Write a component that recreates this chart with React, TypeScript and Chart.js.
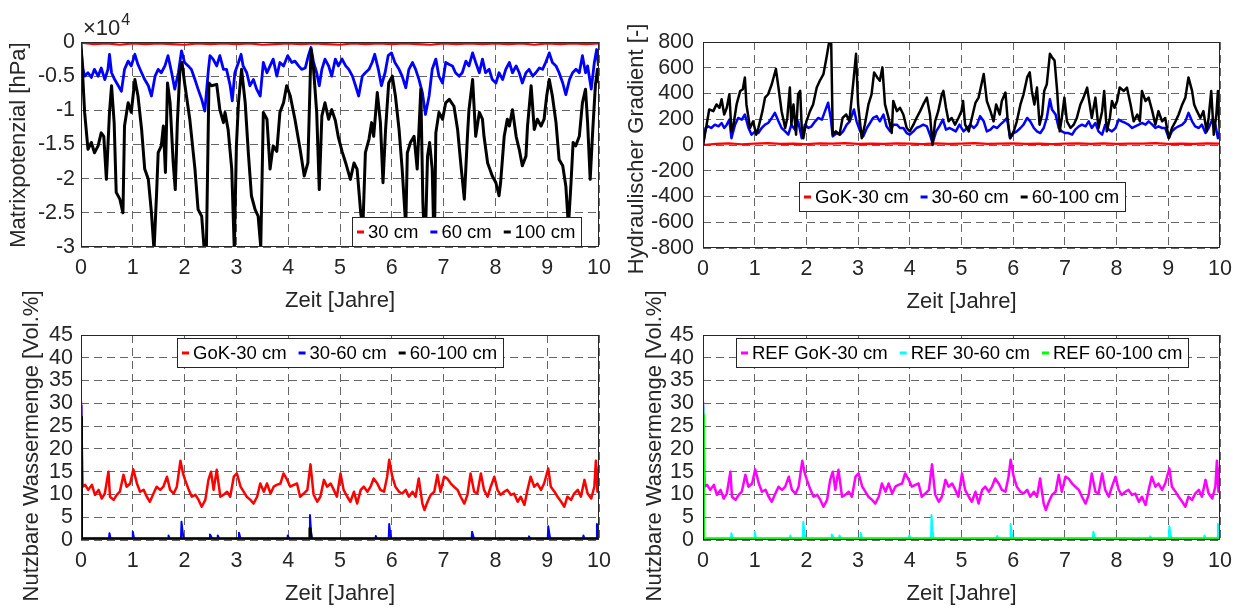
import React, { useEffect, useRef } from "react";
import { Chart, registerables } from "chart.js";
Chart.register(...registerables);

const FONT = "'Liberation Sans', Arial, sans-serif";
const TXT = "#262626";
const GRID = "rgba(0,0,0,0.6)";

// ---------- tick arrays ----------
const xTicks = [0, 1, 2, 3, 4, 5, 6, 7, 8, 9, 10];
const matrixTicks = [0, -0.5, -1, -1.5, -2, -2.5, -3]; // x 10^4 hPa
const gradientTicks = [800, 600, 400, 200, 0, -200, -400, -600, -800];
const waterTicks = [0, 5, 10, 15, 20, 25, 30, 35, 40, 45];

// ---------- Matrixpotenzial (x10^4 hPa) : [Jahre, Wert] ----------
const matrix30: [number, number][] = [
  [0, -0.01], [0.25, -0.03], [0.5, -0.02], [0.75, -0.04], [1, -0.02], [1.25, -0.03], [1.5, -0.02], [1.75, -0.03],
  [2, -0.04], [2.25, -0.02], [2.5, -0.03], [2.75, -0.02], [3, -0.03], [3.25, -0.02], [3.5, -0.04], [3.75, -0.03],
  [4, -0.02], [4.25, -0.03], [4.5, -0.02], [4.75, -0.03], [5, -0.04], [5.25, -0.02], [5.5, -0.03], [5.75, -0.02],
  [6, -0.03], [6.25, -0.02], [6.5, -0.03], [6.75, -0.04], [7, -0.02], [7.25, -0.03], [7.5, -0.02], [7.75, -0.03],
  [8, -0.02], [8.25, -0.03], [8.5, -0.02], [8.75, -0.04], [9, -0.02], [9.25, -0.03], [9.5, -0.02], [9.75, -0.03], [10, -0.02],
];
const matrix60: [number, number][] = [
  [0, -0.1], [0.04, -0.4], [0.07, -0.5], [0.135, -0.45], [0.2, -0.52], [0.26, -0.4], [0.33, -0.5], [0.39, -0.38],
  [0.46, -0.55], [0.52, -0.4], [0.55, -0.18], [0.59, -0.45], [0.65, -0.55], [0.72, -0.64], [0.78, -0.72], [0.84, -0.4],
  [0.91, -0.28], [0.97, -0.35], [1.04, -0.18], [1.1, -0.33], [1.17, -0.45], [1.23, -0.55], [1.3, -0.64], [1.36, -0.79],
  [1.43, -0.5], [1.49, -0.4], [1.55, -0.45], [1.62, -0.35], [1.68, -0.2], [1.75, -0.45], [1.81, -0.69], [1.88, -0.45],
  [1.94, -0.13], [2.0, -0.3], [2.07, -0.35], [2.13, -0.4], [2.2, -0.55], [2.26, -0.69], [2.33, -0.84], [2.39, -1.01],
  [2.46, -0.4], [2.49, -0.2], [2.55, -0.25], [2.62, -0.35], [2.68, -0.2], [2.75, -0.4], [2.81, -0.4], [2.88, -0.64],
  [2.92, -0.86], [2.97, -0.45], [3.04, -0.3], [3.09, -0.18], [3.13, -0.35], [3.2, -0.45], [3.26, -0.64], [3.33, -0.55],
  [3.39, -0.69], [3.46, -0.79], [3.52, -0.3], [3.59, -0.45], [3.65, -0.35], [3.71, -0.25], [3.78, -0.5], [3.84, -0.3],
  [3.91, -0.35], [3.99, -0.2], [4.07, -0.3], [4.13, -0.28], [4.2, -0.35], [4.26, -0.4], [4.33, -0.38], [4.39, -0.2],
  [4.44, -0.08], [4.49, -0.3], [4.55, -0.45], [4.6, -0.64], [4.65, -0.4], [4.71, -0.25], [4.78, -0.35], [4.84, -0.5],
  [4.91, -0.25], [4.97, -0.35], [5.04, -0.25], [5.11, -0.35], [5.17, -0.4], [5.24, -0.5], [5.3, -0.64], [5.36, -0.79],
  [5.43, -0.5], [5.49, -0.45], [5.56, -0.4], [5.62, -0.3], [5.67, -0.18], [5.74, -0.4], [5.8, -0.64], [5.87, -0.45],
  [5.93, -0.2], [5.995, -0.16], [6.06, -0.3], [6.14, -0.4], [6.2, -0.5], [6.27, -0.67], [6.33, -0.4], [6.4, -0.3],
  [6.46, -0.4], [6.525, -0.55], [6.59, -0.74], [6.65, -1.06], [6.72, -0.79], [6.78, -0.4], [6.85, -0.25], [6.91, -0.5],
  [6.98, -0.6], [7.04, -0.3], [7.11, -0.33], [7.17, -0.35], [7.23, -0.45], [7.3, -0.5], [7.36, -0.45], [7.43, -0.28],
  [7.49, -0.35], [7.56, -0.16], [7.62, -0.3], [7.69, -0.45], [7.75, -0.25], [7.81, -0.45], [7.88, -0.4], [7.94, -0.55],
  [8.01, -0.6], [8.07, -0.45], [8.14, -0.55], [8.2, -0.4], [8.27, -0.3], [8.33, -0.45], [8.4, -0.35], [8.46, -0.45],
  [8.52, -0.6], [8.59, -0.45], [8.65, -0.4], [8.72, -0.5], [8.78, -0.45], [8.85, -0.38], [8.91, -0.4], [8.97, -0.3],
  [9.04, -0.16], [9.1, -0.3], [9.17, -0.35], [9.23, -0.45], [9.3, -0.6], [9.36, -0.77], [9.43, -0.55], [9.49, -0.45],
  [9.555, -0.4], [9.62, -0.45], [9.68, -0.2], [9.74, -0.45], [9.78, -0.35], [9.85, -0.69], [9.91, -0.3], [9.955, -0.11],
  [9.99, -0.35],
];
const matrix100: [number, number][] = [
  [0, -0.02], [0.07, -1.03], [0.135, -1.57], [0.2, -1.47], [0.26, -1.62], [0.33, -1.52], [0.39, -1.33], [0.44, -1.38],
  [0.49, -2.01], [0.55, -1.03], [0.59, -0.64], [0.64, -1.18], [0.68, -2.2], [0.75, -2.3], [0.81, -2.5], [0.84, -1.23],
  [0.91, -0.89], [0.97, -1.03], [1.04, -0.55], [1.1, -0.79], [1.17, -1.28], [1.23, -1.86], [1.3, -2.01], [1.36, -2.5],
  [1.41, -3.05], [1.46, -2.2], [1.49, -1.62], [1.55, -1.52], [1.59, -1.23], [1.63, -1.91], [1.67, -0.6], [1.72, -0.89],
  [1.78, -1.77], [1.82, -2.16], [1.86, -1.18], [1.91, -0.4], [1.95, -0.3], [2.0, -0.6], [2.1, -1.13], [2.2, -1.86],
  [2.26, -2.45], [2.33, -2.55], [2.38, -3.05], [2.42, -3.05], [2.47, -0.6], [2.52, -0.64], [2.62, -0.62], [2.68, -0.99],
  [2.75, -1.18], [2.78, -1.03], [2.84, -1.28], [2.91, -1.86], [2.96, -3.05], [3.0, -1.52], [3.04, -0.89], [3.1, -0.4],
  [3.17, -0.89], [3.23, -1.62], [3.29, -2.25], [3.36, -2.45], [3.42, -2.55], [3.47, -3.0], [3.52, -1.03], [3.59, -1.13],
  [3.65, -1.86], [3.71, -1.52], [3.78, -1.6], [3.84, -1.03], [3.91, -0.89], [3.97, -0.64], [4.04, -0.79], [4.13, -1.13],
  [4.23, -1.57], [4.31, -1.96], [4.38, -1.77], [4.44, -0.11], [4.49, -0.4], [4.55, -1.03], [4.6, -2.16], [4.65, -1.08],
  [4.71, -0.89], [4.78, -1.13], [4.84, -0.99], [4.91, -1.15], [4.97, -1.4], [5.04, -1.6], [5.11, -1.77], [5.2, -2.01],
  [5.27, -1.77], [5.33, -1.86], [5.4, -2.5], [5.44, -2.75], [5.49, -1.62], [5.56, -1.42], [5.61, -1.18], [5.65, -1.38],
  [5.72, -0.74], [5.78, -1.18], [5.83, -2.06], [5.88, -1.28], [5.94, -0.6], [6.01, -0.5], [6.07, -0.79], [6.14, -1.28],
  [6.2, -1.86], [6.27, -2.7], [6.3, -1.62], [6.36, -1.47], [6.43, -1.38], [6.49, -1.86], [6.56, -0.69], [6.6, -2.35],
  [6.64, -3.1], [6.69, -1.67], [6.73, -1.47], [6.78, -1.86], [6.82, -3.1], [6.85, -1.33], [6.91, -1.03], [6.98, -1.13],
  [7.04, -0.89], [7.11, -0.84], [7.2, -0.94], [7.27, -1.28], [7.33, -1.77], [7.4, -2.3], [7.46, -1.38], [7.49, -0.99],
  [7.56, -0.55], [7.62, -1.38], [7.69, -1.03], [7.75, -1.13], [7.78, -1.38], [7.85, -1.77], [7.94, -1.96], [8.01, -2.06],
  [8.07, -2.25], [8.1, -2.06], [8.17, -1.38], [8.23, -1.13], [8.27, -1.23], [8.33, -0.99], [8.4, -1.38], [8.46, -1.57],
  [8.52, -1.81], [8.59, -1.67], [8.62, -1.23], [8.69, -0.64], [8.75, -1.28], [8.81, -1.13], [8.88, -1.23], [8.94, -1.13],
  [8.99, -0.79], [9.04, -0.55], [9.1, -0.79], [9.17, -1.18], [9.23, -1.72], [9.3, -1.81], [9.36, -2.11], [9.41, -2.7],
  [9.46, -2.06], [9.5, -1.47], [9.55, -1.52], [9.62, -1.38], [9.68, -0.89], [9.74, -0.69], [9.78, -1.18], [9.83, -2.01],
  [9.88, -1.28], [9.93, -0.64], [9.97, -0.4], [10, -0.6],
];

// ---------- Hydraulischer Gradient [-] : [Jahre, Wert] ----------
const gradGok30: [number, number][] = [
  [0, 0], [0.25, 8], [0.5, 12], [0.75, 6], [1, 10], [1.25, 14], [1.5, 9], [1.75, 11], [2, 7], [2.25, 12], [2.5, 10],
  [2.75, 15], [3, 8], [3.25, 11], [3.5, 9], [3.75, 13], [4, 10], [4.25, 7], [4.5, 12], [4.75, 9], [5, 11], [5.25, 14],
  [5.5, 8], [5.75, 10], [6, 12], [6.25, 9], [6.5, 11], [6.75, 7], [7, 10], [7.25, 13], [7.5, 9], [7.75, 12], [8, 8],
  [8.25, 11], [8.5, 10], [8.75, 14], [9, 9], [9.25, 11], [9.5, 8], [9.75, 12], [10, 10],
];
const grad3060: [number, number][] = [
  [0, 0], [0.05, 132], [0.1, 145], [0.16, 132], [0.23, 158], [0.3, 145], [0.36, 171], [0.41, 132], [0.46, 158],
  [0.51, 197], [0.55, 53], [0.62, 158], [0.68, 210], [0.75, 197], [0.81, 237], [0.88, 132], [0.94, 80], [1.01, 106],
  [1.07, 93], [1.135, 132], [1.2, 158], [1.26, 171], [1.33, 210], [1.39, 250], [1.46, 184], [1.52, 132], [1.59, 106],
  [1.65, 80], [1.71, 158], [1.78, 119], [1.84, 184], [1.91, 53], [1.97, 158], [2.04, 132], [2.1, 145], [2.17, 184],
  [2.23, 210], [2.3, 197], [2.36, 263], [2.42, 328], [2.47, 210], [2.51, 67], [2.59, 93], [2.65, 80], [2.71, 106],
  [2.78, 158], [2.84, 184], [2.92, 276], [2.97, 184], [3.04, 106], [3.1, 67], [3.17, 132], [3.23, 171], [3.29, 210],
  [3.36, 224], [3.42, 184], [3.49, 237], [3.55, 145], [3.62, 106], [3.68, 158], [3.75, 158], [3.81, 132], [3.875, 132],
  [3.94, 93], [4.0, 80], [4.07, 106], [4.13, 132], [4.2, 145], [4.26, 158], [4.33, 145], [4.39, 80], [4.44, 14],
  [4.51, 106], [4.57, 145], [4.64, 197], [4.7, 119], [4.77, 132], [4.83, 119], [4.89, 106], [4.96, 158], [5.04, 106],
  [5.11, 132], [5.17, 158], [5.24, 132], [5.3, 158], [5.36, 224], [5.43, 184], [5.49, 106], [5.56, 119], [5.62, 145],
  [5.69, 132], [5.75, 158], [5.82, 184], [5.88, 210], [5.94, 53], [6.01, 93], [6.07, 106], [6.14, 132], [6.2, 158],
  [6.27, 210], [6.33, 184], [6.4, 132], [6.46, 106], [6.525, 93], [6.59, 132], [6.65, 210], [6.71, 355], [6.75, 276],
  [6.82, 237], [6.88, 132], [6.94, 106], [7.01, 93], [7.07, 93], [7.14, 80], [7.2, 119], [7.27, 145], [7.33, 158],
  [7.4, 145], [7.46, 184], [7.52, 132], [7.59, 171], [7.65, 106], [7.72, 80], [7.78, 158], [7.85, 119], [7.91, 106],
  [7.98, 132], [8.04, 197], [8.1, 184], [8.17, 171], [8.23, 158], [8.3, 132], [8.36, 145], [8.43, 158], [8.49, 171],
  [8.56, 158], [8.62, 184], [8.69, 158], [8.75, 132], [8.81, 145], [8.88, 132], [8.94, 132], [9.01, 53], [9.07, 106],
  [9.14, 132], [9.2, 145], [9.27, 158], [9.33, 184], [9.39, 250], [9.46, 184], [9.52, 145], [9.59, 132], [9.65, 158],
  [9.72, 93], [9.78, 132], [9.85, 197], [9.91, 158], [9.96, 53], [10, 106],
];
const grad60100: [number, number][] = [
  [0, 0], [0.07, 158], [0.12, 276], [0.2, 263], [0.26, 315], [0.32, 289], [0.36, 355], [0.41, 237], [0.46, 289],
  [0.51, 394], [0.55, 106], [0.59, 158], [0.65, 315], [0.72, 420], [0.77, 433], [0.81, 525], [0.84, 315], [0.91, 132],
  [0.97, 184], [1.03, 80], [1.07, 132], [1.15, 263], [1.2, 368], [1.26, 394], [1.33, 472], [1.41, 590], [1.46, 446],
  [1.52, 263], [1.59, 132], [1.63, 210], [1.68, 446], [1.71, 158], [1.75, 315], [1.8, 80], [1.84, 394], [1.88, 420],
  [1.91, 132], [1.94, 53], [2.0, 184], [2.07, 263], [2.13, 315], [2.2, 446], [2.26, 499], [2.33, 551], [2.39, 682],
  [2.44, 800], [2.48, 787], [2.51, 80], [2.57, 106], [2.64, 80], [2.7, 210], [2.77, 237], [2.83, 184], [2.91, 499],
  [2.96, 708], [3.0, 315], [3.07, 53], [3.13, 158], [3.2, 315], [3.26, 394], [3.31, 564], [3.37, 525], [3.42, 499],
  [3.47, 603], [3.52, 315], [3.59, 210], [3.65, 93], [3.68, 342], [3.75, 263], [3.81, 289], [3.875, 237], [3.94, 132],
  [4.0, 106], [4.07, 158], [4.13, 210], [4.2, 263], [4.26, 315], [4.33, 368], [4.39, 237], [4.44, 0], [4.49, 184],
  [4.55, 263], [4.62, 394], [4.65, 420], [4.7, 289], [4.75, 184], [4.81, 210], [4.875, 158], [4.94, 210], [5.0, 263],
  [5.03, 342], [5.07, 158], [5.14, 106], [5.2, 210], [5.27, 328], [5.33, 368], [5.43, 551], [5.49, 342], [5.56, 263],
  [5.62, 184], [5.67, 315], [5.74, 237], [5.78, 342], [5.85, 407], [5.89, 210], [5.94, 53], [6.01, 106], [6.07, 184],
  [6.14, 315], [6.2, 394], [6.27, 525], [6.32, 564], [6.36, 420], [6.41, 315], [6.46, 446], [6.51, 158], [6.56, 237],
  [6.6, 420], [6.65, 472], [6.71, 708], [6.75, 682], [6.8, 656], [6.85, 420], [6.9, 106], [6.94, 210], [6.99, 368],
  [7.04, 184], [7.11, 132], [7.17, 158], [7.23, 210], [7.3, 315], [7.36, 368], [7.43, 446], [7.48, 315], [7.52, 210],
  [7.59, 368], [7.65, 132], [7.72, 263], [7.76, 420], [7.81, 106], [7.87, 210], [7.91, 342], [7.96, 289], [8.01, 342],
  [8.06, 446], [8.14, 420], [8.2, 446], [8.27, 315], [8.33, 184], [8.4, 237], [8.45, 184], [8.49, 420], [8.56, 342],
  [8.62, 368], [8.69, 263], [8.75, 158], [8.81, 263], [8.88, 184], [8.94, 210], [9.01, 53], [9.07, 132], [9.14, 184],
  [9.2, 237], [9.27, 315], [9.33, 368], [9.39, 525], [9.46, 420], [9.5, 315], [9.555, 263], [9.62, 210], [9.68, 263],
  [9.74, 106], [9.78, 210], [9.83, 420], [9.88, 80], [9.93, 237], [9.96, 420], [10, 53],
];

// ---------- Nutzbare Wassermenge [Vol.%] : [Jahre, Wert] ----------
const waterGok30: [number, number][] = [
  [0, 30.4], [0.03, 11.7], [0.08, 12.1], [0.14, 11.0], [0.21, 12.1], [0.27, 9.9], [0.34, 11.0], [0.4, 9.1], [0.46, 10.2],
  [0.53, 15.0], [0.56, 9.5], [0.63, 8.8], [0.69, 9.9], [0.75, 10.6], [0.82, 14.3], [0.88, 11.7], [0.95, 12.4], [1.01, 15.5],
  [1.08, 12.4], [1.14, 10.6], [1.21, 11.0], [1.27, 9.5], [1.33, 8.4], [1.4, 10.2], [1.46, 11.7], [1.53, 11.0], [1.59, 11.7],
  [1.66, 13.9], [1.72, 11.0], [1.79, 10.2], [1.85, 11.7], [1.92, 17.4], [1.97, 14.6], [2.01, 13.2], [2.08, 11.0], [2.14, 9.5],
  [2.21, 9.9], [2.27, 8.8], [2.33, 7.3], [2.4, 8.8], [2.46, 13.2], [2.51, 15.0], [2.56, 11.0], [2.62, 15.4], [2.69, 9.5],
  [2.75, 9.9], [2.82, 10.6], [2.88, 9.5], [2.95, 13.9], [3.01, 14.6], [3.08, 11.7], [3.14, 10.6], [3.2, 9.5], [3.27, 8.8],
  [3.33, 8.0], [3.4, 9.5], [3.46, 12.4], [3.53, 10.6], [3.59, 12.4], [3.66, 10.2], [3.72, 11.7], [3.78, 12.1], [3.85, 12.4],
  [3.91, 14.6], [3.98, 13.2], [4.04, 11.7], [4.11, 12.1], [4.17, 12.4], [4.23, 9.5], [4.3, 10.2], [4.37, 11.0], [4.43, 16.6],
  [4.49, 10.0], [4.56, 8.4], [4.62, 9.5], [4.69, 13.2], [4.75, 11.7], [4.82, 12.4], [4.88, 11.0], [4.94, 9.5], [5.01, 14.6],
  [5.07, 11.0], [5.14, 9.5], [5.2, 8.4], [5.27, 10.6], [5.33, 8.0], [5.4, 11.0], [5.46, 11.7], [5.53, 10.6], [5.59, 11.7],
  [5.65, 13.5], [5.72, 12.4], [5.78, 11.0], [5.85, 10.6], [5.91, 13.9], [5.95, 17.6], [6.01, 13.9], [6.07, 11.7], [6.14, 10.6],
  [6.2, 10.2], [6.27, 11.0], [6.33, 9.5], [6.4, 10.6], [6.46, 9.5], [6.52, 13.5], [6.59, 8.0], [6.63, 6.6], [6.69, 8.4],
  [6.75, 9.9], [6.82, 10.6], [6.88, 14.3], [6.94, 10.6], [7.01, 13.9], [7.07, 13.5], [7.14, 12.4], [7.2, 11.7], [7.27, 11.0],
  [7.33, 9.5], [7.4, 8.0], [7.46, 9.9], [7.52, 14.6], [7.59, 10.6], [7.65, 10.2], [7.72, 14.6], [7.78, 11.0], [7.85, 9.5],
  [7.91, 11.7], [7.98, 13.9], [8.04, 11.0], [8.1, 9.9], [8.17, 10.6], [8.23, 11.0], [8.3, 9.9], [8.36, 10.2], [8.43, 8.4],
  [8.49, 9.5], [8.56, 7.7], [8.62, 11.0], [8.68, 13.9], [8.75, 11.7], [8.81, 12.4], [8.88, 11.0], [8.94, 12.4], [9.02, 15.7],
  [9.07, 11.7], [9.14, 10.6], [9.2, 9.5], [9.27, 8.4], [9.33, 7.3], [9.39, 9.5], [9.46, 8.8], [9.52, 10.2], [9.59, 11.0],
  [9.65, 9.5], [9.72, 13.2], [9.78, 10.2], [9.85, 9.1], [9.91, 11.7], [9.94, 17.4], [9.97, 10.6], [10, 16.1],
];
const water3060: [number, number][] = [
  [0, 29.5], [0.01, 2.5], [0.02, 0.3], [0.54, 0.3], [0.55, 1.5], [0.57, 0.3], [0.99, 0.3], [1.0, 1.8], [1.02, 0.6],
  [1.04, 0.3], [1.68, 0.3], [1.69, 1.0], [1.71, 0.3], [1.93, 0.3], [1.94, 4.0], [1.96, 2.0], [1.98, 0.3], [2.48, 0.3],
  [2.49, 1.2], [2.52, 0.6], [2.54, 0.3], [2.63, 0.3], [2.64, 1.0], [2.67, 0.3], [3.04, 0.3], [3.05, 1.6], [3.08, 0.3],
  [3.98, 0.3], [3.99, 1.0], [4.02, 0.3], [4.41, 0.3], [4.42, 5.5], [4.44, 2.0], [4.46, 0.3], [5.68, 0.3], [5.69, 0.9],
  [5.71, 0.3], [5.94, 0.3], [5.95, 3.5], [5.97, 1.5], [5.99, 0.3], [7.54, 0.3], [7.55, 1.8], [7.58, 0.6], [7.6, 0.3],
  [8.64, 0.3], [8.65, 0.8], [8.67, 0.3], [9.01, 0.3], [9.02, 3.0], [9.05, 0.8], [9.07, 0.3], [9.69, 0.3], [9.7, 1.0],
  [9.72, 0.3], [9.95, 0.3], [9.96, 3.5], [9.98, 1.2], [10, 0.5],
];
const water60100: [number, number][] = [
  [0, 27], [0.01, 0.3], [4.41, 0.3], [4.42, 2.6], [4.44, 0.3], [10, 0.3],
];
const refGok30: [number, number][] = waterGok30.map(([t, v]) => [t, v]);
const ref3060: [number, number][] = water3060.map(([t, v]) => [t, v]);
const ref60100: [number, number][] = [
  [0, 27.5], [0.01, 0.3], [10, 0.3],
];

type Series = { label: string; color: string; width: number; data: [number, number][] };
type Panel = {
  area: { left: number; top: number; right: number; bottom: number };
  yTitle: string; yTitleX: number; yTitleY: number; yTickPad: number;
  yMin: number; yMax: number; yTicks: number[];
  series: Series[];
  legend: { x: number; y: number; align: "right" | "center" };
  exponent?: boolean;
};

const panels: Panel[] = [
  {
    area: { left: 81, top: 42, right: 599, bottom: 247 },
    yTitle: "Matrixpotenzial [hPa]", yTitleX: 19, yTitleY: 145, yTickPad: 6,
    yMin: -3, yMax: 0, yTicks: matrixTicks,
    series: [
      { label: "30 cm", color: "#ff0000", width: 2.2, data: matrix30 },
      { label: "60 cm", color: "#0000ff", width: 2.8, data: matrix60 },
      { label: "100 cm", color: "#000000", width: 3, data: matrix100 },
    ],
    legend: { x: 581, y: 217, align: "right" },
    exponent: true,
  },
  {
    area: { left: 703, top: 42, right: 1220, bottom: 248 },
    yTitle: "Hydraulischer Gradient [-]", yTitleX: 637, yTitleY: 149, yTickPad: 9,
    yMin: -800, yMax: 800, yTicks: gradientTicks,
    series: [
      { label: "GoK-30 cm", color: "#ff0000", width: 2.2, data: gradGok30 },
      { label: "30-60 cm", color: "#0000ff", width: 2.5, data: grad3060 },
      { label: "60-100 cm", color: "#000000", width: 2.5, data: grad60100 },
    ],
    legend: { x: 962, y: 182, align: "center" },
  },
  {
    area: { left: 81, top: 335, right: 599, bottom: 540 },
    yTitle: "Nutzbare Wassermenge [Vol.%]", yTitleX: 32, yTitleY: 446, yTickPad: 8,
    yMin: 0, yMax: 45, yTicks: waterTicks,
    series: [
      { label: "GoK-30 cm", color: "#ff0000", width: 2.5, data: waterGok30 },
      { label: "30-60 cm", color: "#0000ff", width: 2, data: water3060 },
      { label: "60-100 cm", color: "#000000", width: 3, data: water60100 },
    ],
    legend: { x: 340, y: 338, align: "center" },
  },
  {
    area: { left: 703, top: 335, right: 1220, bottom: 540 },
    yTitle: "Nutzbare Wassermenge [Vol.%]", yTitleX: 655, yTitleY: 446, yTickPad: 9,
    yMin: 0, yMax: 45, yTicks: waterTicks,
    series: [
      { label: "REF GoK-30 cm", color: "#ff00ff", width: 2.5, data: refGok30 },
      { label: "REF 30-60 cm", color: "#00ffff", width: 2, data: ref3060 },
      { label: "REF 60-100 cm", color: "#00ff00", width: 3, data: ref60100 },
    ],
    legend: { x: 962, y: 338, align: "center" },
  },
];

const W = 1240, H = 610;
const TICK_FS = 21.5;
const TITLE_FS = 22;
const X_AXIS_H = 70;

function drawLegend(ctx: CanvasRenderingContext2D, series: Series[], cfg: Panel["legend"]) {
  ctx.save();
  ctx.font = `18.5px ${FONT}`;
  const padL = 5, padR = 6, mW = 7, mGap = 4, gap = 12, h = 29;
  const widths = series.map((s) => ctx.measureText(s.label).width);
  const total = Math.round(padL + padR + widths.reduce((a, w) => a + w, 0) + series.length * (mW + mGap) + (series.length - 1) * gap);
  const x0 = Math.round(cfg.align === "right" ? cfg.x - total : cfg.x - total / 2);
  const y0 = cfg.y;
  ctx.setLineDash([]);
  ctx.fillStyle = "#ffffff";
  ctx.fillRect(x0, y0, total, h);
  ctx.strokeStyle = TXT;
  ctx.lineWidth = 1;
  ctx.strokeRect(x0 + 0.5, y0 + 0.5, total, h);
  let x = x0 + padL;
  const yc = y0 + h / 2 + 0.5;
  series.forEach((s, i) => {
    ctx.strokeStyle = s.color;
    ctx.lineWidth = 3;
    ctx.beginPath();
    ctx.moveTo(x, yc);
    ctx.lineTo(x + mW, yc);
    ctx.stroke();
    x += mW + mGap;
    ctx.fillStyle = "#000000";
    ctx.textBaseline = "middle";
    ctx.textAlign = "left";
    ctx.fillText(s.label, x, yc + 1);
    x += widths[i] + gap;
  });
  ctx.restore();
}

function PanelChart({ panel }: { panel: Panel }) {
  const ref = useRef<HTMLCanvasElement | null>(null);
  useEffect(() => {
    if (!ref.current) return;
    const a = panel.area;
    const scaleLeft = panel.yTitleX - (TITLE_FS * 1.2) / 2;
    const deco = {
      id: "matlabDeco",
      afterDraw(chart: any) {
        const { ctx, chartArea: c } = chart;
        ctx.save();
        ctx.setLineDash([]);
        ctx.strokeStyle = TXT;
        ctx.lineWidth = 1;
        ctx.strokeRect(Math.round(c.left) + 0.5, Math.round(c.top) + 0.5, Math.round(c.right - c.left) - 1, Math.round(c.bottom - c.top) - 1);
        ctx.save();
        ctx.translate(panel.yTitleX, panel.yTitleY);
        ctx.rotate(-Math.PI / 2);
        ctx.fillStyle = TXT;
        ctx.font = `${TITLE_FS}px ${FONT}`;
        ctx.textAlign = "center";
        ctx.textBaseline = "middle";
        ctx.fillText(panel.yTitle, 0, 0);
        ctx.restore();
        drawLegend(ctx, panel.series, panel.legend);
        if (panel.exponent) {
          ctx.fillStyle = TXT;
          ctx.textAlign = "left";
          ctx.textBaseline = "alphabetic";
          ctx.font = `22px ${FONT}`;
          ctx.fillText("×10", c.left + 2, c.top - 7);
          const w = ctx.measureText("×10").width;
          ctx.font = `16px ${FONT}`;
          ctx.fillText("4", c.left + 2 + w + 1, c.top - 17);
        }
        ctx.restore();
      },
    };
    const tickFont = { family: FONT, size: TICK_FS };
    const titleFont = { family: FONT, size: TITLE_FS };
    const chart = new Chart(ref.current, {
      type: "line",
      data: {
        datasets: panel.series.map((s, i) => ({
          label: s.label,
          data: s.data.map(([t, v]) => ({ x: t, y: v })),
          borderColor: s.color,
          backgroundColor: s.color,
          borderWidth: s.width,
          pointRadius: 0,
          tension: 0,
          fill: false,
          order: panel.series.length - i,
          borderJoinStyle: "round" as const,
        })),
      },
      options: {
        animation: false,
        responsive: false,
        maintainAspectRatio: false,
        events: [],
        layout: { padding: { left: scaleLeft, top: a.top, right: W - a.right, bottom: H - a.bottom - X_AXIS_H } },
        plugins: { legend: { display: false }, tooltip: { enabled: false }, title: { display: false } },
        scales: {
          x: {
            type: "linear",
            min: 0,
            max: 10,
            afterBuildTicks: (s: any) => { s.ticks = xTicks.map((v) => ({ value: v })); },
            afterFit: (s: any) => { s.height = X_AXIS_H; },
            ticks: { font: tickFont, color: TXT, padding: 8, maxRotation: 0, autoSkip: false, callback: (v: any) => String(v) },
            grid: { color: GRID, lineWidth: 1, drawTicks: false },
            border: { display: false, dash: [8, 5] },
            title: { display: true, text: "Zeit [Jahre]", font: titleFont, color: TXT, padding: { top: 0, bottom: 3 } },
          },
          y: {
            type: "linear",
            min: panel.yMin,
            max: panel.yMax,
            afterBuildTicks: (s: any) => { s.ticks = panel.yTicks.map((v) => ({ value: v })); },
            afterFit: (s: any) => { s.width = a.left - scaleLeft; },
            ticks: { font: tickFont, color: TXT, padding: panel.yTickPad, autoSkip: false, callback: (v: any) => String(v) },
            grid: { color: GRID, lineWidth: 1, drawTicks: false },
            border: { display: false, dash: [8, 5] },
            title: { display: false },
          },
        },
      } as any,
      plugins: [deco],
    });
    return () => chart.destroy();
  }, [panel]);
  return (
    <canvas
      ref={ref}
      width={W}
      height={H}
      style={{ position: "absolute", left: 0, top: 0, width: W, height: H }}
    />
  );
}

export default function App() {
  return (
    <div style={{ position: "fixed", left: 0, top: 0, width: W, height: H, background: "#ffffff", overflow: "hidden" }}>
      {panels.map((p, i) => (
        <PanelChart key={i} panel={p} />
      ))}
    </div>
  );
}
